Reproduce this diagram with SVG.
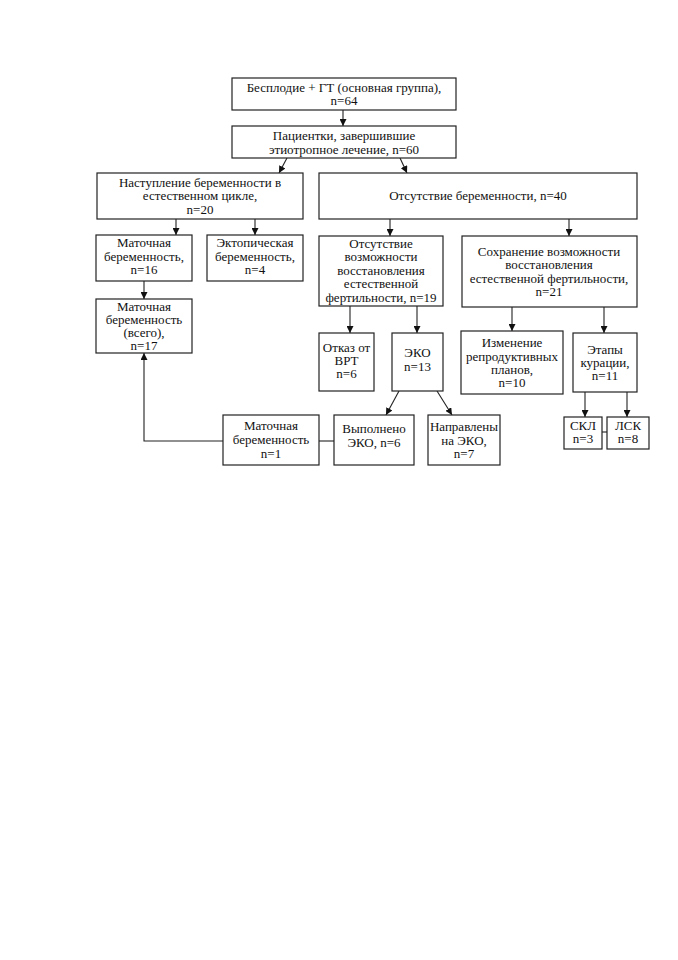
<svg xmlns="http://www.w3.org/2000/svg" width="678" height="960" viewBox="0 0 678 960">
<style>
.b{fill:#fff;stroke:#222;stroke-width:1.2}
.t{font-family:"Liberation Serif","Times New Roman",serif;font-size:13px;fill:#111;text-anchor:middle}
.c{fill:none;stroke:#222;stroke-width:1.1}
</style>
<defs>
<marker id="ah" viewBox="0 0 10 10" refX="10" refY="5" markerWidth="7" markerHeight="7" markerUnits="userSpaceOnUse" orient="auto">
<path d="M0,0 L10,5 L0,10 z" fill="#111"/>
</marker>
</defs>
<rect width="678" height="960" fill="#fff"/>
<g id="connectors">
<line class="c" x1="343" y1="110" x2="343" y2="126" marker-end="url(#ah)"/>
<line class="c" x1="287" y1="158" x2="279" y2="173" marker-end="url(#ah)"/>
<line class="c" x1="400" y1="158" x2="407" y2="173" marker-end="url(#ah)"/>
<line class="c" x1="176" y1="219" x2="176" y2="235" marker-end="url(#ah)"/>
<line class="c" x1="255" y1="219" x2="255" y2="235" marker-end="url(#ah)"/>
<line class="c" x1="390" y1="219" x2="390" y2="236" marker-end="url(#ah)"/>
<line class="c" x1="569" y1="219" x2="569" y2="236" marker-end="url(#ah)"/>
<line class="c" x1="144" y1="281" x2="144" y2="299" marker-end="url(#ah)"/>
<line class="c" x1="350" y1="306" x2="350" y2="333" marker-end="url(#ah)"/>
<line class="c" x1="417" y1="306" x2="417" y2="333" marker-end="url(#ah)"/>
<line class="c" x1="512" y1="307" x2="512" y2="331" marker-end="url(#ah)"/>
<line class="c" x1="604" y1="307" x2="604" y2="333" marker-end="url(#ah)"/>
<line class="c" x1="399" y1="391" x2="386" y2="415" marker-end="url(#ah)"/>
<line class="c" x1="437" y1="391" x2="452" y2="415" marker-end="url(#ah)"/>
<polyline class="c" points="223,441 144,441 144,353" marker-end="url(#ah)"/>
<line class="c" x1="319" y1="441" x2="334" y2="441"/>
<line class="c" x1="585" y1="392" x2="585" y2="417" marker-end="url(#ah)"/>
<line class="c" x1="627" y1="392" x2="627" y2="417" marker-end="url(#ah)"/>
<line class="c" x1="602" y1="432" x2="607" y2="432"/>
</g>
<g id="n1"><rect class="b" x="232" y="78" width="224" height="32"/>
<text class="t" x="344" y="92">Бесплодие + ГТ (основная группа),</text>
<text class="t" x="344" y="105">n=64</text></g>
<g id="n2"><rect class="b" x="232" y="126" width="224" height="32"/>
<text class="t" x="344" y="140">Пациентки, завершившие</text>
<text class="t" x="344" y="154">этиотропное лечение, n=60</text></g>
<g id="n3"><rect class="b" x="97" y="173" width="206" height="46"/>
<text class="t" x="200" y="187">Наступление беременности в</text>
<text class="t" x="200" y="200">естественном цикле,</text>
<text class="t" x="200" y="214">n=20</text></g>
<g id="n4"><rect class="b" x="319" y="173" width="318" height="46"/>
<text class="t" x="478" y="200">Отсутствие беременности, n=40</text></g>
<g id="n5"><rect class="b" x="96" y="235" width="96" height="46"/>
<text class="t" x="144" y="247">Маточная</text>
<text class="t" x="144" y="261">беременность,</text>
<text class="t" x="144" y="274">n=16</text></g>
<g id="n6"><rect class="b" x="207" y="235" width="96" height="46"/>
<text class="t" x="255" y="247">Эктопическая</text>
<text class="t" x="255" y="261">беременность,</text>
<text class="t" x="255" y="274">n=4</text></g>
<g id="n7"><rect class="b" x="319" y="236" width="124" height="70"/>
<text class="t" x="381" y="248">Отсутствие</text>
<text class="t" x="381" y="261">возможности</text>
<text class="t" x="381" y="275">восстановления</text>
<text class="t" x="381" y="288">естественной</text>
<text class="t" x="381" y="302">фертильности, n=19</text></g>
<g id="n8"><rect class="b" x="462" y="236" width="175" height="71"/>
<text class="t" x="549" y="256">Сохранение возможности</text>
<text class="t" x="549" y="269">восстановления</text>
<text class="t" x="549" y="283">естественной фертильности,</text>
<text class="t" x="549" y="296">n=21</text></g>
<g id="n9"><rect class="b" x="96" y="299" width="96" height="54"/>
<text class="t" x="144" y="311">Маточная</text>
<text class="t" x="144" y="324">беременность</text>
<text class="t" x="144" y="337">(всего),</text>
<text class="t" x="144" y="350">n=17</text></g>
<g id="n10"><rect class="b" x="319" y="333" width="55" height="58"/>
<text class="t" x="346.5" y="352">Отказ от</text>
<text class="t" x="346.5" y="365">ВРТ</text>
<text class="t" x="346.5" y="378">n=6</text></g>
<g id="n11"><rect class="b" x="392" y="333" width="51" height="58"/>
<text class="t" x="417.5" y="357">ЭКО</text>
<text class="t" x="417.5" y="371">n=13</text></g>
<g id="n12"><rect class="b" x="461" y="331" width="102" height="63"/>
<text class="t" x="512" y="347">Изменение</text>
<text class="t" x="512" y="361">репродуктивных</text>
<text class="t" x="512" y="374">планов,</text>
<text class="t" x="512" y="387">n=10</text></g>
<g id="n13"><rect class="b" x="573" y="333" width="64" height="59"/>
<text class="t" x="605" y="354">Этапы</text>
<text class="t" x="605" y="367">курации,</text>
<text class="t" x="605" y="380">n=11</text></g>
<g id="n14"><rect class="b" x="223" y="415" width="96" height="50"/>
<text class="t" x="271" y="430">Маточная</text>
<text class="t" x="271" y="444">беременность</text>
<text class="t" x="271" y="458">n=1</text></g>
<g id="n15"><rect class="b" x="334" y="415" width="80" height="50"/>
<text class="t" x="374" y="433">Выполнено</text>
<text class="t" x="374" y="447">ЭКО, n=6</text></g>
<g id="n16"><rect class="b" x="428" y="415" width="72" height="50"/>
<text class="t" x="464" y="431">Направлены</text>
<text class="t" x="464" y="445">на ЭКО,</text>
<text class="t" x="464" y="458">n=7</text></g>
<g id="n17"><rect class="b" x="564" y="417" width="38" height="32"/>
<text class="t" x="583" y="430">СКЛ</text>
<text class="t" x="583" y="443">n=3</text></g>
<g id="n18"><rect class="b" x="607" y="417" width="42" height="32"/>
<text class="t" x="628" y="430">ЛСК</text>
<text class="t" x="628" y="443">n=8</text></g>
</svg>
